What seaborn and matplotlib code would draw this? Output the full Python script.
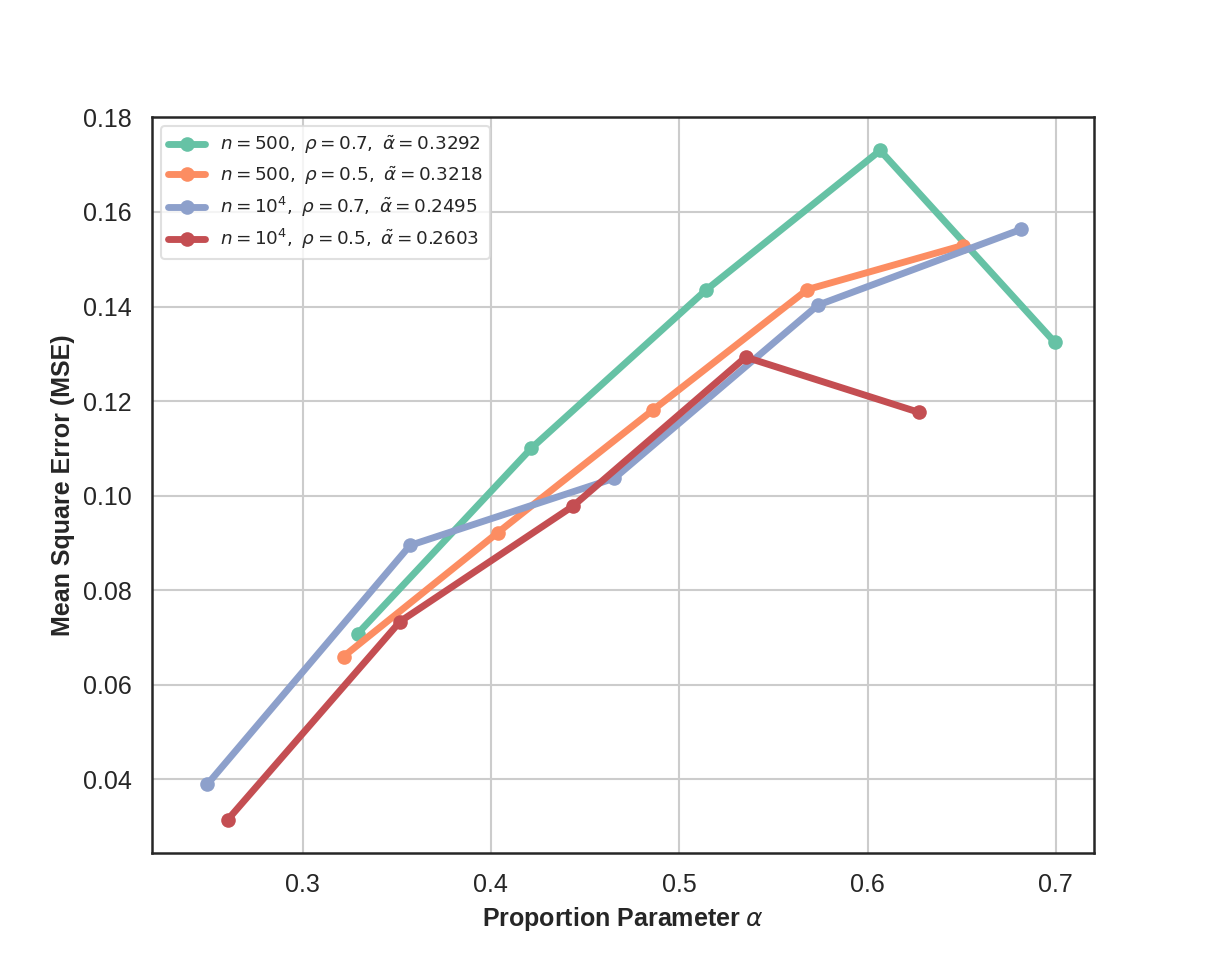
import matplotlib
matplotlib.use("Agg")
import matplotlib.pyplot as plt
import seaborn as sns
import pandas as pd

labels = [
    r"$n=500,\ \rho=0.7,\ \tilde{\alpha}=0.3292$",
    r"$n=500,\ \rho=0.5,\ \tilde{\alpha}=0.3218$",
    r"$n=10^4,\ \rho=0.7,\ \tilde{\alpha}=0.2495$",
    r"$n=10^4,\ \rho=0.5,\ \tilde{\alpha}=0.2603$",
]
alpha_g = [0.3292, 0.4214, 0.5140, 0.6067, 0.6993]
mse_g = [0.0708, 0.1100, 0.1434, 0.1730, 0.1325]
alpha_o = [0.3218, 0.4037, 0.4860, 0.5681, 0.6505]
mse_o = [0.0660, 0.0922, 0.1181, 0.1436, 0.1529]
alpha_b = [0.2495, 0.3571, 0.4656, 0.5737, 0.6815]
mse_b = [0.0390, 0.0895, 0.1037, 0.1403, 0.1563]
alpha_r = [0.2603, 0.3518, 0.4436, 0.5353, 0.6275]
mse_r = [0.0315, 0.0734, 0.0978, 0.1293, 0.1176]
colors = ["#66c2a5", "#fc8d62", "#8da0cb", "#c44e52"]

sns.set_theme(style="whitegrid")
plt.rcParams["font.family"] = ["Liberation Sans", "DejaVu Sans"]
plt.rcParams["axes.edgecolor"] = "0.15"
plt.rcParams["axes.linewidth"] = 1.2
plt.rcParams["grid.color"] = "0.8"

fig, ax = plt.subplots(figsize=(8.1, 6.5), dpi=150)
fig.subplots_adjust(left=0.125, right=0.9, top=0.88, bottom=0.125)

series = [(alpha_g, mse_g), (alpha_o, mse_o), (alpha_b, mse_b), (alpha_r, mse_r)]
for (xs, ys), lab, c in zip(series, labels, colors):
    df = pd.DataFrame({"alpha": xs, "mse": ys})
    sns.lineplot(data=df, x="alpha", y="mse", ax=ax, color=c, label=lab,
                 linewidth=3.3, marker="o", markersize=7,
                 markeredgewidth=0, sort=False)

ax.set_xlim(0.22, 0.72)
ax.set_xticks([0.3, 0.4, 0.5, 0.6, 0.7])
ax.set_xticklabels(["0.3", "0.4", "0.5", "0.6", "0.7"])
ax.tick_params(axis="both", labelsize=12, colors="0.15")
ax.set_xlabel(r"Proportion Parameter $\alpha$", fontsize=12, fontweight="bold")
ax.set_ylabel("Mean Square Error (MSE)", fontsize=12, fontweight="bold")
for s in ax.spines.values():
    s.set_color("0.15")
    s.set_visible(True)

leg = ax.legend(loc="upper left", fontsize=8.8, frameon=True,
                handlelength=2.0, labelspacing=0.45)
leg.get_frame().set_edgecolor("0.85")

fig.savefig("out.png", dpi=150)
